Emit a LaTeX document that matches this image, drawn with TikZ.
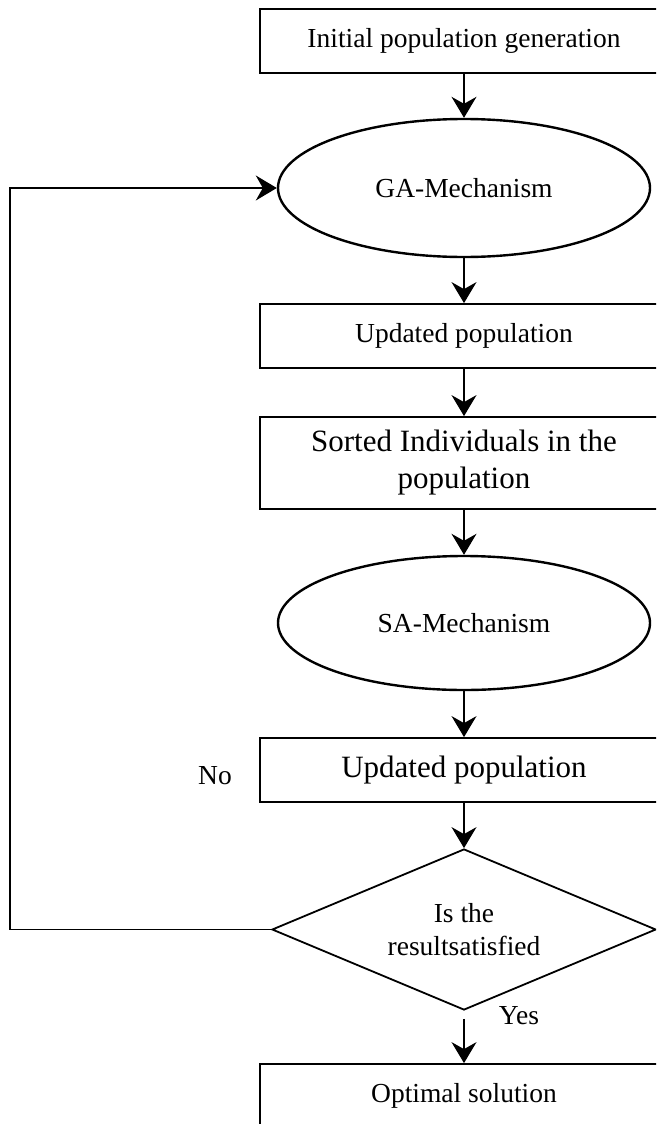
\documentclass[tikz,border=0pt]{standalone}
\usepackage{fontspec}
\setmainfont{Liberation Serif}
\usetikzlibrary{arrows.meta,shapes.geometric}
\begin{document}
\begin{tikzpicture}[x=1pt,y=-1pt,
  stepbox/.style={draw,line width=1.8pt,rectangle,minimum width=408pt,inner sep=0pt,
    align=center,font=\fontsize{27.5}{33}\selectfont},
  bigbox/.style={stepbox,font=\fontsize{31}{37}\selectfont},
  mech/.style={draw,line width=2.4pt,ellipse,inner sep=0pt,minimum width=372pt,
    minimum height=138pt,font=\fontsize{27.5}{33}\selectfont},
  decide/.style={draw,line width=1.8pt,diamond,aspect=2.385,inner sep=0pt,minimum width=384pt,
    minimum height=161pt,align=center,font=\fontsize{27.5}{33}\selectfont},
  arr/.style={line width=1.3pt,-{Stealth[length=21pt,width=25pt,inset=7pt]}},
  lbl/.style={font=\fontsize{27.5}{33}\selectfont,inner sep=0pt}]
  \useasboundingbox (0,0) rectangle (656,1124);
  \clip (0,0) rectangle (656,1124);

  % process chain
  \node[stepbox,minimum height=64pt] (init) at (464,41) {Initial population generation};
  \node[mech] (ga) at (464,188) {GA-Mechanism};
  \node[stepbox,minimum height=64pt] (upd1) at (464,336) {Updated population};
  \node[bigbox,minimum height=92pt] (sort) at (464,463) {Sorted Individuals in the\\population};
  \node[mech,minimum height=134pt] (sa) at (464,623) {SA-Mechanism};
  \node[bigbox,minimum height=64pt] (upd2) at (464,770) {Updated population};
  \node[decide] (dec) at (464,929.5) {Is the\\resultsatisfied};
  \node[stepbox,minimum height=64pt] (opt) at (464,1096) {Optimal solution};

  % connectors
  \draw[arr] (init.south) -- (ga.north);
  \draw[arr] (ga.south) -- (upd1.north);
  \draw[arr] (upd1.south) -- (sort.north);
  \draw[arr] (sort.south) -- (sa.north);
  \draw[arr] (sa.south) -- (upd2.north);
  \draw[arr] (upd2.south) -- (dec.north);
  \draw[arr] ([yshift=-8pt]dec.south) -- (opt.north);

  % feedback loop
  \coordinate (lx) at (10,0);
  \draw[arr] (dec.west) -- (dec.west -| lx) |- (ga.west);

  % branch labels
  \node[lbl] (no) at (215,776) {No};
  \node[lbl] (yes) at (519,1016) {Yes};
\end{tikzpicture}
\end{document}
